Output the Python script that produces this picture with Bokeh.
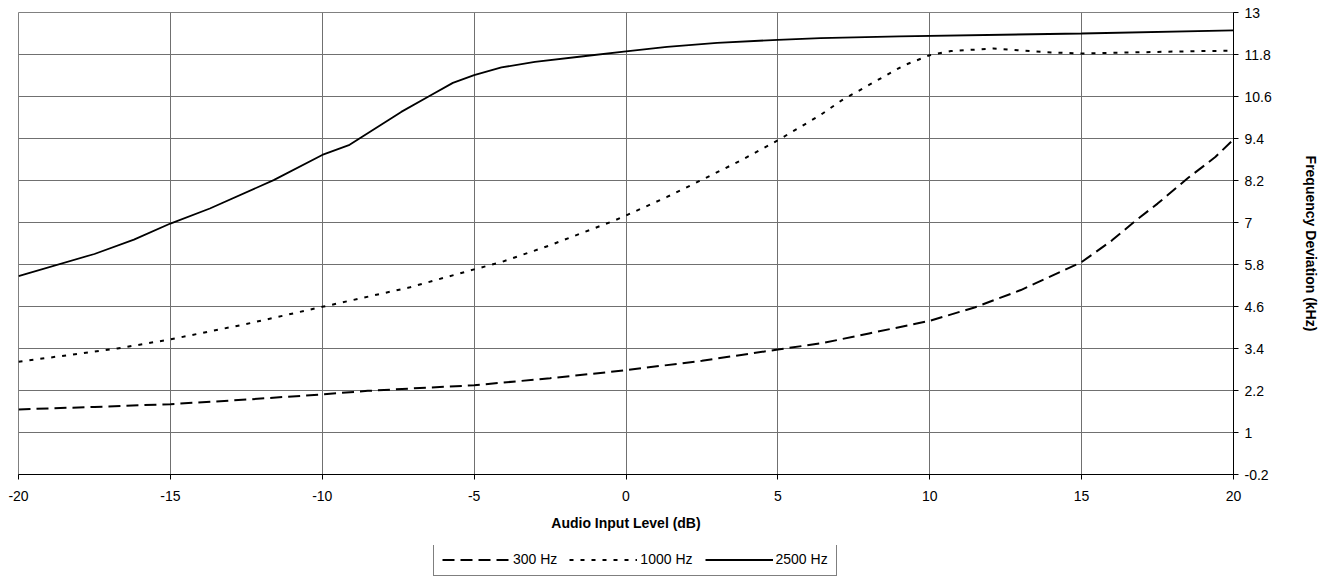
from bokeh.plotting import figure
from bokeh.layouts import column
from bokeh.models import Range1d, FixedTicker, CustomJSTickFormatter, Legend, LegendItem
from bokeh.embed import file_html
from bokeh.resources import INLINE

# ---- data ----
x_300 = [-20, -17.5, -15, -12.5, -10, -8.5, -7, -5, -2.5, 0, 2.5, 5, 6.5, 8, 10, 11.5, 13, 15, 16, 16.8, 17.5, 18.5, 19.4, 20]
y_300 = [1.66, 1.73, 1.81, 1.94, 2.09, 2.19, 2.26, 2.35, 2.55, 2.78, 3.05, 3.37, 3.56, 3.83, 4.19, 4.58, 5.07, 5.87, 6.49, 7.07, 7.54, 8.27, 8.87, 9.37]

x_1000 = [-20, -16.75, -15, -12.5, -10, -7.15, -5, -4.1, -2.5, -0.4, 0, 1.35, 2.55, 3.75, 5, 6.4, 7.1, 8, 9.15, 10, 10.7, 12.1, 12.9, 14, 15, 16.7, 18.4, 20]
y_1000 = [3.02, 3.4, 3.66, 4.1, 4.59, 5.14, 5.66, 5.87, 6.35, 7.05, 7.2, 7.73, 8.24, 8.76, 9.35, 10.07, 10.49, 10.93, 11.49, 11.78, 11.9, 11.97, 11.92, 11.86, 11.83, 11.86, 11.89, 11.91]

x_2500 = [-20, -17.5, -16.2, -15, -13.7, -11.6, -10, -9.1, -7.4, -6.5, -5.7, -5, -4.1, -3, -1.4, 0, 1.35, 3, 5, 6.4, 9, 15, 20]
y_2500 = [5.47, 6.1, 6.51, 6.97, 7.4, 8.21, 8.93, 9.22, 10.16, 10.6, 10.99, 11.21, 11.43, 11.59, 11.75, 11.89, 12.02, 12.13, 12.22, 12.27, 12.32, 12.4, 12.49]

series_names = ["300 Hz", "1000 Hz", "2500 Hz"]
x_ticks = [-20, -15, -10, -5, 0, 5, 10, 15, 20]
y_ticks = [-0.2, 1, 2.2, 3.4, 4.6, 5.8, 7, 8.2, 9.4, 10.6, 11.8, 13]
x_title = "Audio Input Level (dB)"
y_title = "Frequency Deviation (kHz)"

FONT = "Liberation Sans"
FS = "14px"
STYLES = [dict(line_width=2, line_dash="12 6"),
          dict(line_width=2, line_dash="4 7"),
          dict(line_width=1.8, line_dash="solid")]

p = figure(width=1333, height=545, output_backend="svg", toolbar_location=None,
           x_range=Range1d(-20, 20), y_range=Range1d(-0.2, 13),
           y_axis_location="right",
           min_border_left=18, min_border_top=12, min_border_right=100, min_border_bottom=71)
p.background_fill_color = "white"
p.border_fill_color = "white"
p.outline_line_color = "#808080"
p.outline_line_width = 1

fmt = CustomJSTickFormatter(code="return String(Math.round(tick*10)/10);")
for ax in (p.xaxis[0], p.yaxis[0]):
    ax.axis_line_color = "black"
    ax.axis_line_width = 1
    ax.major_tick_line_color = "black"
    ax.major_tick_out = 5
    ax.major_tick_in = 0
    ax.minor_tick_line_color = None
    ax.major_label_text_font = FONT
    ax.major_label_text_font_size = FS
    ax.major_label_text_color = "black"
    ax.axis_label_text_font = FONT
    ax.axis_label_text_font_size = FS
    ax.axis_label_text_font_style = "bold"
    ax.axis_label_text_color = "black"
    ax.formatter = fmt

p.xaxis[0].ticker = FixedTicker(ticks=x_ticks)
p.yaxis[0].ticker = FixedTicker(ticks=y_ticks)
p.xaxis[0].axis_label = x_title
p.yaxis[0].axis_label = y_title
p.xaxis[0].major_label_standoff = 11
p.xaxis[0].axis_label_standoff = 11
p.yaxis[0].major_label_standoff = 6
p.yaxis[0].axis_label_standoff = 28

p.xgrid.grid_line_color = "#707070"
p.ygrid.grid_line_color = "#707070"
p.xgrid.grid_line_width = 1
p.ygrid.grid_line_width = 1

xs = [x_300, x_1000, x_2500]
ys = [y_300, y_1000, y_2500]
for xv, yv, st in zip(xs, ys, STYLES):
    p.line(xv, yv, line_color="black", **st)

# legend strip below the chart (its series lie outside the strip's visible range)
p2 = figure(width=1333, height=32, output_backend="svg", toolbar_location=None,
            x_range=Range1d(0, 1), y_range=Range1d(0, 1),
            min_border_left=0, min_border_right=0, min_border_top=0, min_border_bottom=0)
p2.axis.visible = False
p2.grid.visible = False
p2.outline_line_color = None
p2.background_fill_color = "white"
p2.border_fill_color = "white"
items = []
for name, xv, yv, st in zip(series_names, xs, ys, STYLES):
    r = p2.line(xv, yv, line_color="black", **st)
    items.append(LegendItem(label=name, renderers=[r]))

legend = Legend(items=items, orientation="horizontal", location=(415, 1))
legend.label_text_font = FONT
legend.label_text_font_size = FS
legend.label_text_color = "black"
legend.glyph_width = 68
legend.glyph_height = 15
legend.label_height = 15
legend.label_standoff = 3
legend.spacing = 12
legend.padding = 8
legend.margin = 0
legend.border_line_color = "black"
legend.border_line_width = 1
legend.background_fill_color = "white"
p2.add_layout(legend, "center")

layout = column(p, p2, spacing=0)
open("out.html", "w").write(file_html(layout, INLINE))
